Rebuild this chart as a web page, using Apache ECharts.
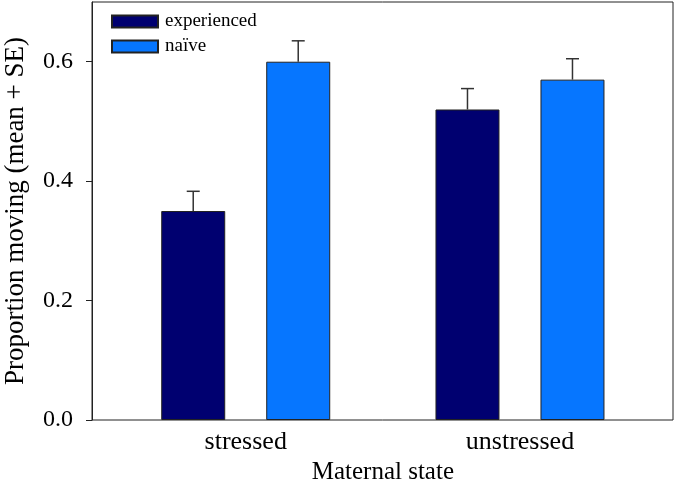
<!DOCTYPE html>
<html>
<head>
<meta charset="utf-8">
<script src="https://cdn.jsdelivr.net/npm/echarts@6/dist/echarts.min.js"></script>
<style>html,body{margin:0;padding:0;background:#fff}#c{width:675px;height:487px}</style>
</head>
<body>
<div id="c"></div>
<script>
const categories = ['stressed', 'unstressed'];
const seriesNames = ['experienced', 'naïve'];
const experiencedMean = [0.35, 0.52];
const experiencedSE = [0.033, 0.035];
const naiveMean = [0.60, 0.57];
const naiveSE = [0.035, 0.035];
const yTicks = [0, 0.2, 0.4, 0.6];

const FONT = '"Liberation Serif", "Times New Roman", serif';
const BAR_W = 64, GAP_PX = 41;
const OFF = (BAR_W + GAP_PX) / 2;

function errSeries(name, means, ses, offset) {
  return {
    type: 'custom', name: name + ' SE', xAxisIndex: 1, yAxisIndex: 1, z: 5,
    silent: true,
    data: means.map((m, i) => [i, m, ses[i]]),
    renderItem: function (params, api) {
      const c = api.value(0), m = api.value(1), s = api.value(2);
      const p0 = api.coord([c, m]);
      const p1 = api.coord([c, m + s]);
      const x = p0[0] + offset;
      const st = { stroke: '#333', lineWidth: 1.5 };
      return {
        type: 'group',
        children: [
          { type: 'line', shape: { x1: x, y1: p0[1], x2: x, y2: p1[1] }, style: st },
          { type: 'line', shape: { x1: x - 6.5, y1: p1[1], x2: x + 6.5, y2: p1[1] }, style: st }
        ]
      };
    }
  };
}

const chart = echarts.init(document.getElementById('c'));
chart.setOption({
  animation: false,
  textStyle: { fontFamily: FONT },
  legend: {
    orient: 'vertical', left: 106, top: 7,
    itemWidth: 46, itemHeight: 12, itemGap: 6,
    data: seriesNames,
    icon: 'rect',
    textStyle: { fontFamily: FONT, fontSize: 19, color: '#000', padding: [0, 0, 0, 2] }
  },
  grid: [
    { left: 92, right: 2, top: 2, bottom: 67, outerBoundsMode: 'none', containLabel: false,
      show: true, borderColor: '#222', borderWidth: 1, backgroundColor: 'transparent' },
    { left: 108.6, right: 17.9, top: 2, bottom: 67, outerBoundsMode: 'none', containLabel: false }
  ],
  xAxis: [
    { type: 'category', gridIndex: 0, data: categories, show: false },
    {
      type: 'category', gridIndex: 1, data: categories,
      axisLine: { show: false }, axisTick: { show: false },
      axisLabel: { fontFamily: FONT, fontSize: 26, color: '#000', margin: 9 },
      name: 'Maternal state', nameLocation: 'middle', nameGap: 36,
      nameTextStyle: { fontFamily: FONT, fontSize: 25, color: '#000' }
    }
  ],
  yAxis: [
    {
      type: 'value', gridIndex: 0, min: 0, max: 0.7,
      splitLine: { show: false },
      axisLine: { show: true, lineStyle: { color: '#222', width: 1 } },
      axisTick: { show: true, length: 6, inside: false, customValues: yTicks, lineStyle: { color: '#222' } },
      axisLabel: { fontFamily: FONT, fontSize: 24, color: '#000', margin: 19, customValues: yTicks,
        formatter: v => v.toFixed(1) },
      name: 'Proportion moving (mean + SE)', nameLocation: 'middle', nameGap: 63,
      nameTextStyle: { fontFamily: FONT, fontSize: 27, color: '#000' }
    },
    { type: 'value', gridIndex: 1, min: 0, max: 0.7, show: false, splitLine: { show: false } }
  ],
  series: [
    {
      type: 'bar', name: seriesNames[0], xAxisIndex: 1, yAxisIndex: 1,
      data: experiencedMean, barWidth: BAR_W, barGap: (GAP_PX / BAR_W * 100) + '%',
      itemStyle: { color: '#000070', borderColor: '#222', borderWidth: 1 }
    },
    {
      type: 'bar', name: seriesNames[1], xAxisIndex: 1, yAxisIndex: 1,
      data: naiveMean, barWidth: BAR_W, barGap: (GAP_PX / BAR_W * 100) + '%',
      itemStyle: { color: '#0676FF', borderColor: '#222', borderWidth: 1 }
    },
    errSeries(seriesNames[0], experiencedMean, experiencedSE, -OFF),
    errSeries(seriesNames[1], naiveMean, naiveSE, OFF)
  ]
});
</script>
</body>
</html>
